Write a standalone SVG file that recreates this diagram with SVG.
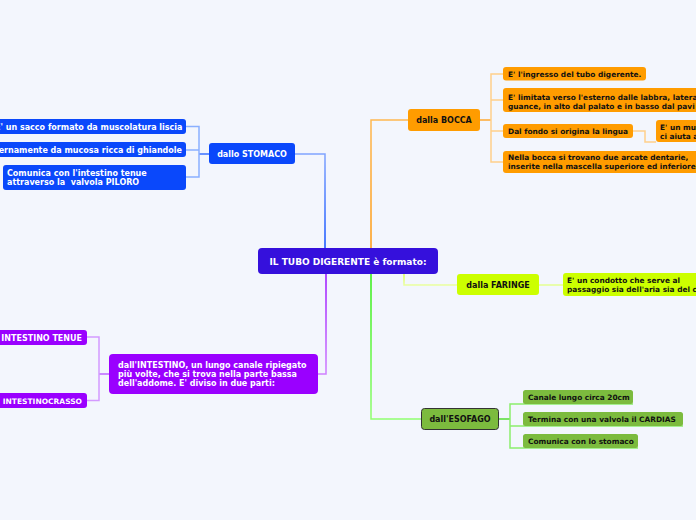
<svg xmlns="http://www.w3.org/2000/svg" width="696" height="520" viewBox="0 0 696 520">
<defs>
<linearGradient id="gBlue" gradientUnits="userSpaceOnUse" x1="0" y1="248" x2="0" y2="154"><stop offset="0" stop-color="#1050ff"/><stop offset="1" stop-color="#80a4ff"/></linearGradient>
<linearGradient id="gOrange" gradientUnits="userSpaceOnUse" x1="0" y1="248" x2="0" y2="120"><stop offset="0" stop-color="#ff9a10"/><stop offset="1" stop-color="#ffb850"/></linearGradient>
<linearGradient id="gPurple" gradientUnits="userSpaceOnUse" x1="0" y1="274" x2="0" y2="374"><stop offset="0" stop-color="#9a10ff"/><stop offset="1" stop-color="#cf80ff"/></linearGradient>
<linearGradient id="gGreen" gradientUnits="userSpaceOnUse" x1="0" y1="274" x2="0" y2="419"><stop offset="0" stop-color="#30ee10"/><stop offset="1" stop-color="#90ff70"/></linearGradient>
<linearGradient id="gYellow" gradientUnits="userSpaceOnUse" x1="0" y1="274" x2="0" y2="285"><stop offset="0" stop-color="#d8ff50"/><stop offset="1" stop-color="#eaffa0"/></linearGradient>
</defs>
<style>
text{font-family:"DejaVu Sans",Verdana,sans-serif;font-weight:bold;white-space:pre;}
.w{fill:#ffffff;}
.k{fill:#111111;}
.n{font-size:8px;}
.c{font-size:7.4px;}
.m{text-anchor:middle;}
.e{text-anchor:end;}
.blue{fill:#0a48fb;}
.orange{fill:#ff9c00;}
.purple{fill:#9a00ff;}
.green{fill:#7cbb3e;}
.yellow{fill:#ccff00;}
.cn{fill:none;stroke-width:1.5;}
</style>
<rect x="0" y="0" width="696" height="520" fill="#f3f6fd"/>
<g id="connectors">
<path class="cn" d="M325 248 V154 H295" stroke="url(#gBlue)" stroke-width="2"/>
<path class="cn" d="M371 248 V120 H408" stroke="url(#gOrange)" stroke-width="2"/>
<path class="cn" d="M326 274 V374 H318" stroke="url(#gPurple)" stroke-width="2"/>
<path class="cn" d="M371 274 V419 H421" stroke="url(#gGreen)" stroke-width="2"/>
<path class="cn" d="M404 274 V285 H457" stroke="url(#gYellow)" stroke-width="2"/>
<path class="cn" d="M209 154 H199" stroke="#3a70ff"/>
<path class="cn" d="M186 126.5 H199 V177 H186 M186 150 H199" stroke="#8ab0ff"/>
<path class="cn" d="M480 120 H491" stroke="#ffa830"/>
<path class="cn" d="M503 74 H491 V162 H503 M491 100 H503 M491 131 H503" stroke="#ffd08a"/>
<path class="cn" d="M633 131 H645 V142 H656" stroke="#ffd08a"/>
<path class="cn" d="M109 374 H99" stroke="#bb66ff"/>
<path class="cn" d="M87 337 H99 V400.5 H87" stroke="#d49aff"/>
<path class="cn" d="M499 419 H510" stroke="#55dd33"/>
<path class="cn" d="M633 404 H510 V448 H638 M510 426 H683" stroke="#8cee6c"/>
<path class="cn" d="M539 285 H563" stroke="#e4ff90"/>
</g>
<g id="center">
<rect x="258" y="248" width="180" height="26" rx="4" fill="#3510dc"/>
<text class="w m" x="348" y="264.5" font-size="9">IL TUBO DIGERENTE è formato:</text>
</g>
<g id="stomaco">
<rect class="blue" x="209" y="143" width="86" height="21" rx="3"/>
<text class="w n m" x="252" y="157">dallo STOMACO</text>
</g>
<g id="stomaco-1">
<rect class="blue" x="-10" y="119" width="196" height="15" rx="3"/>
<text class="w n e" x="182.5" y="129.5">E' un sacco formato da muscolatura liscia</text>
</g>
<g id="stomaco-2">
<rect class="blue" x="-10" y="142" width="196" height="15" rx="3"/>
<text class="w n e" x="182" y="152.5">ernamente da mucosa ricca di ghiandole</text>
</g>
<g id="stomaco-3">
<rect class="blue" x="3" y="165" width="183" height="25" rx="3"/>
<text class="w n" x="7" y="175.5">Comunica con l'intestino tenue</text>
<text class="w n" x="7" y="184.5">attraverso la&#160; valvola PILORO</text>
</g>
<g id="bocca">
<rect class="orange" x="408" y="109" width="72" height="22" rx="3"/>
<text class="k n m" x="444" y="123">dalla BOCCA</text>
</g>
<g id="bocca-1">
<rect class="orange" x="503" y="67" width="143" height="13.5" rx="3"/>
<text class="k c" x="508" y="76.5">E' l'ingresso del tubo digerente.</text>
</g>
<g id="bocca-2">
<rect class="orange" x="503" y="88" width="200" height="24" rx="3"/>
<text class="k c" x="508" y="99.5">E' limitata verso l'esterno dalle labbra, latera</text>
<text class="k c" x="508" y="108.5">guance, in alto dal palato e in basso dal pavi</text>
</g>
<g id="bocca-3">
<rect class="orange" x="503" y="124" width="130" height="14" rx="3"/>
<text class="k c" x="508" y="133.5">Dal fondo si origina la lingua</text>
</g>
<g id="bocca-3-1">
<rect class="orange" x="656" y="120" width="50" height="22" rx="3"/>
<text class="k c" x="660" y="129.5">E' un mus</text>
<text class="k c" x="660" y="138.5">ci aiuta a</text>
</g>
<g id="bocca-4">
<rect class="orange" x="503" y="151" width="200" height="22" rx="3"/>
<text class="k c" x="508" y="159.5">Nella bocca si trovano due arcate dentarie,</text>
<text class="k c" x="508" y="168.5">inserite nella mascella superiore ed inferiore</text>
</g>
<g id="faringe">
<rect class="yellow" x="457" y="274" width="82" height="21" rx="3"/>
<text class="k n m" x="498" y="288">dalla FARINGE</text>
</g>
<g id="faringe-1">
<rect class="yellow" x="563" y="273" width="140" height="23" rx="3"/>
<text class="k c" x="567" y="283">E' un condotto che serve al</text>
<text class="k c" x="567" y="292">passaggio sia dell'aria sia del c</text>
</g>
<g id="intestino">
<rect class="purple" x="109" y="354" width="209" height="40" rx="4"/>
<text class="w n" x="118" y="368">dall'INTESTINO, un lungo canale ripiegato</text>
<text class="w n" x="118" y="377">più volte, che si trova nella parte bassa</text>
<text class="w n" x="118" y="386">dell'addome. E' diviso in due parti:</text>
</g>
<g id="intestino-1">
<rect class="purple" x="-10" y="330" width="97" height="15" rx="3"/>
<text class="w n e" x="82" y="340.5">INTESTINO TENUE</text>
</g>
<g id="intestino-2">
<rect class="purple" x="-10" y="393" width="97" height="15" rx="3"/>
<text class="w e" font-size="7.5" x="82" y="403.5">INTESTINOCRASSO</text>
</g>
<g id="esofago">
<rect class="green" x="421.5" y="408.5" width="77" height="21" rx="3" stroke="#333333" stroke-width="1"/>
<text class="k n m" x="460" y="422">dall'ESOFAGO</text>
</g>
<g id="esofago-1">
<rect class="green" x="523" y="390" width="110" height="14" rx="2.5"/>
<text class="k c" x="528" y="399.5">Canale lungo circa 20cm</text>
</g>
<g id="esofago-2">
<rect class="green" x="523" y="412" width="160" height="14" rx="2.5"/>
<text class="k c" x="528" y="421.5">Termina con una valvola il CARDIAS</text>
</g>
<g id="esofago-3">
<rect class="green" x="523" y="434" width="115" height="14" rx="2.5"/>
<text class="k c" x="528" y="443.5">Comunica con lo stomaco</text>
</g>
</svg>
